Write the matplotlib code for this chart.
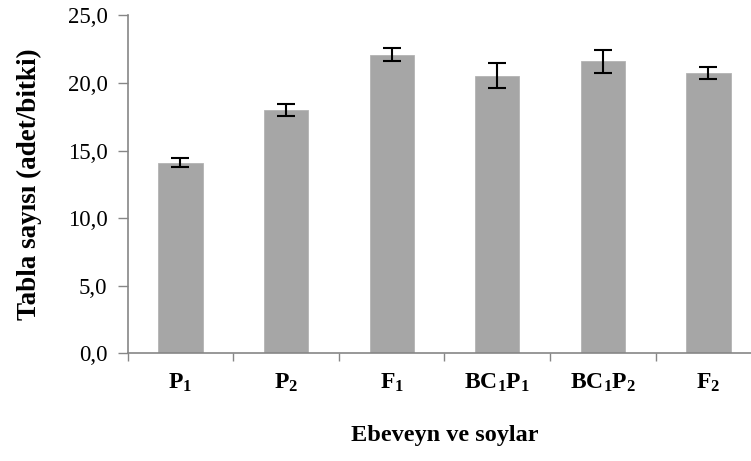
import matplotlib
matplotlib.use("Agg")
import matplotlib.pyplot as plt
from matplotlib.ticker import FuncFormatter, FixedLocator

plt.rcParams["font.family"] = ["Liberation Serif", "DejaVu Serif"]
plt.rcParams["mathtext.fontset"] = "custom"
plt.rcParams["mathtext.rm"] = "Liberation Serif"
plt.rcParams["mathtext.bf"] = "Liberation Serif:bold"
plt.rcParams["mathtext.it"] = "Liberation Serif:italic"

# Generations and their mean panicle (tabla) counts per plant
groups = [r"$\mathbf{P_1}$", r"$\mathbf{P_2}$", r"$\mathbf{F_1}$",
          r"$\mathbf{BC_1P_1}$", r"$\mathbf{BC_1P_2}$", r"$\mathbf{F_2}$"]
means = [14.1, 18.0, 22.1, 20.55, 21.6, 20.75]
errors = [0.35, 0.45, 0.5, 0.93, 0.85, 0.45]
y_ticks = [0, 5, 10, 15, 20, 25]

fig = plt.figure(figsize=(7.51, 4.61), dpi=100)
ax = fig.add_axes([0.170, 0.2336, 0.8437, 0.733])

x = list(range(len(groups)))
ax.bar(x, means, width=0.42, color="#a6a6a6", edgecolor="#b4b4b4",
       linewidth=0.6, zorder=2)
ax.errorbar(x, means, yerr=errors, fmt="none", ecolor="black",
            elinewidth=1.5, capsize=6.5, capthick=1.5, zorder=3)

ax.set_xlim(-0.5, len(groups) - 0.5)
ax.set_ylim(0, 25)
ax.set_yticks(y_ticks)
ax.yaxis.set_major_formatter(FuncFormatter(lambda v, p: f"{v:.1f}".replace(".", ",")))

ax.set_xticks(x)
ax.set_xticklabels(groups, fontsize=17)
ax.xaxis.set_minor_locator(FixedLocator([i - 0.5 for i in range(len(groups) + 1)]))
ax.tick_params(axis="x", which="major", length=0, pad=13)
ax.tick_params(axis="x", which="minor", length=6, width=1, color="#868686", direction="out")
ax.tick_params(axis="y", length=7.5, width=1, color="#868686", labelsize=16.5, pad=7)

for side in ("top", "right"):
    ax.spines[side].set_visible(False)
for side in ("left", "bottom"):
    ax.spines[side].set_color("#868686")
    ax.spines[side].set_linewidth(1.2)

ax.set_ylabel("Tabla sayısı (adet/bitki)", fontsize=19.5, fontweight="bold")
ax.yaxis.set_label_coords(-0.135, 0.5)
ax.set_xlabel("Ebeveyn ve soylar", fontsize=17.5, fontweight="bold")
ax.xaxis.set_label_coords(0.5, -0.212)

fig.savefig("out.png", dpi=100)
